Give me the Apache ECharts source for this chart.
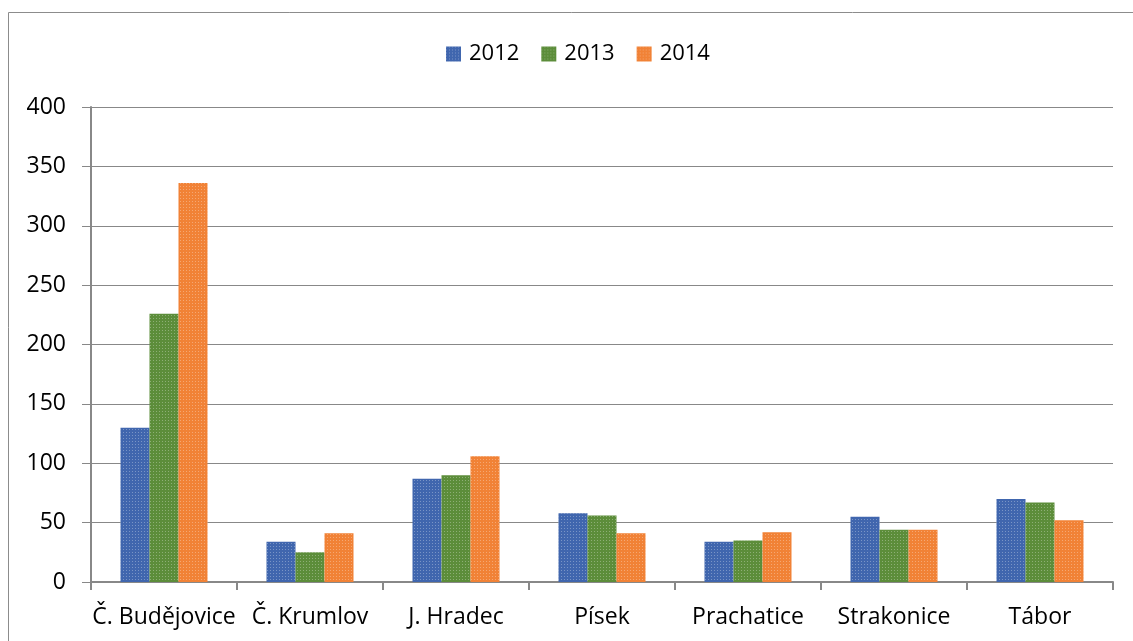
<!DOCTYPE html>
<html><head><meta charset="utf-8">
<script src="https://cdn.jsdelivr.net/npm/echarts@6/dist/echarts.min.js"></script>
<style>html,body{margin:0;padding:0;background:#fff}#c{width:1133px;height:641px}</style>
</head><body><div id="c"></div>
<script>
var categories = ['Č. Budějovice','Č. Krumlov','J. Hradec','Písek','Prachatice','Strakonice','Tábor'];
var s2012 = [130, 34, 87, 58, 34, 55, 70];
var s2013 = [226, 25, 90, 56, 35, 44, 67];
var s2014 = [336, 41, 106, 41, 42, 44, 52];
var seriesNames = ['2012','2013','2014'];
var yTicks = [0,50,100,150,200,250,300,350,400];

var font = '"Open Sans", "Noto Sans", sans-serif';
var colors = ['#4066ae', '#5c8d3a', '#f18236'];
function decal(){ return {symbol:'rect', symbolSize:1, dashArrayX:[1,2], dashArrayY:[1,2], color:'rgba(255,255,255,0.3)'}; }
var chart = echarts.init(document.getElementById('c'), null, {renderer:'canvas'});
var data = [s2012, s2013, s2014];
chart.setOption({
  animation:false,
  color: colors,
  graphic:[{type:'rect', shape:{x:8.5,y:12.5,width:1140,height:650}, style:{fill:'none', stroke:'#8c8c8c', lineWidth:1}, silent:true}],
  legend:{top:38, left:441, itemWidth:15, itemHeight:15, itemGap:22, icon:'rect',
    textStyle:{fontFamily:font, fontSize:22, color:'#000', padding:[0,0,0,3]}, data:seriesNames},
  grid:{left:91, right:20, top:107, bottom:59, containLabel:false},
  xAxis:{type:'category', data:categories,
    axisLine:{lineStyle:{color:'#888', width:2}},
    axisTick:{show:true, length:8, lineStyle:{color:'#888', width:2}},
    axisLabel:{fontFamily:font, fontSize:23, color:'#000', margin:24, interval:0}},
  yAxis:{type:'value', min:0, max:400, interval:50,
    axisLine:{show:true, lineStyle:{color:'#888', width:2}},
    axisTick:{show:true, length:9, lineStyle:{color:'#888'}},
    splitLine:{lineStyle:{color:'#888', width:1}},
    axisLabel:{fontFamily:font, fontSize:23, color:'#000', margin:25,
      formatter:function(v){return yTicks.indexOf(v)>=0?String(v):'';}}},
  series: seriesNames.map(function(n,i){return {name:n, type:'bar', data:data[i], barWidth:29, barGap:'0%',
    itemStyle:{color:colors[i], decal:decal()}};})
});
</script></body></html>
